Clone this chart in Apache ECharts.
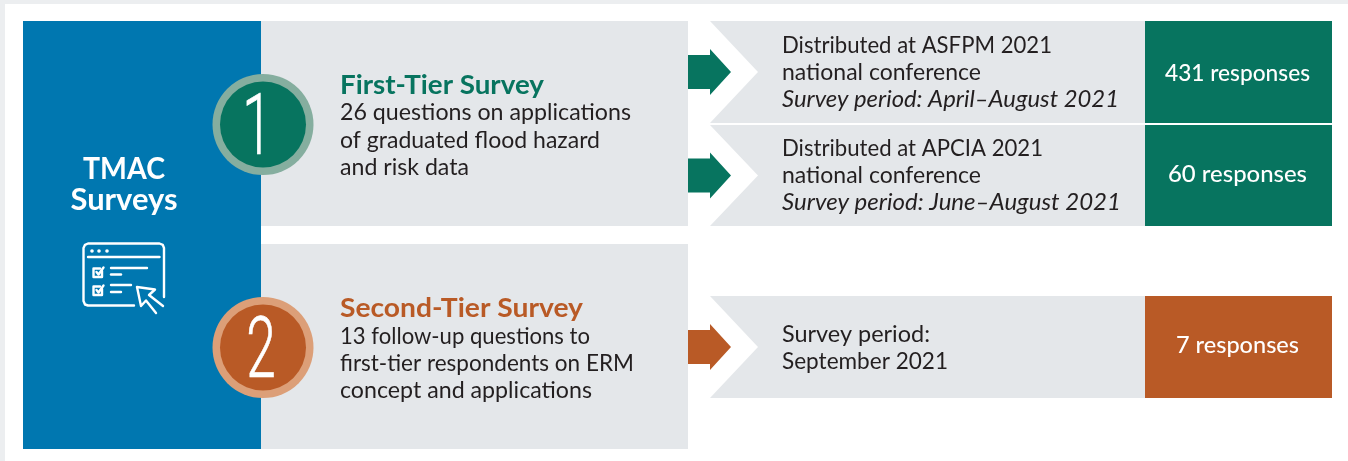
<!DOCTYPE html>
<html>
<head>
<meta charset="utf-8">
<title>TMAC Surveys</title>
<script src="https://cdn.jsdelivr.net/npm/echarts@6/dist/echarts.min.js"></script>
<style>
  html, body { margin: 0; padding: 0; background: #fff; }
  #chart { width: 1348px; height: 461px; }
</style>
</head>
<body>
<div id="chart"></div>
<script>
// ---------- content ----------
var mainTitle = ['TMAC', 'Surveys'];
var tierNumbers = ['1', '2'];
var tierTitles = ['First-Tier Survey', 'Second-Tier Survey'];
var tierLines = [
    ['26 questions on applications', 'of graduated flood hazard', 'and risk data'],
    ['13 follow-up questions to', 'first-tier respondents on ERM', 'concept and applications']
];
var rowTier = [0, 0, 1];
var rowLines = [
    ['Distributed at ASFPM 2021', 'national conference'],
    ['Distributed at APCIA 2021', 'national conference'],
    ['Survey period:', 'September 2021']
];
var rowPeriods = ['Survey period: April\u2013August 2021', 'Survey period: June\u2013August 2021', ''];
var rowResponses = [431, 60, 7];

// ---------- layout and colours ----------
var FONT = 'Lato, "Open Sans", sans-serif';
var INK = '#231f20';
var GREY = '#e4e7ea';
var BLUE = '#0077b0';
var tierColor = ['#07745f', '#b95a26'];
var ringColor = ['#85ae9f', '#dc9f78'];
var panelTop = [21, 244];
var circleY = [124.5, 347.5];
var digitX = [257, 261];
var titleY = [85.5, 308.5];
var titleW = [204, 243];
var tierLineY = [[113, 140.5, 168], [337, 364, 391]];
var tierLineW = [[291, 260, 129], [250, 294, 252]];
var rowTop = [21, 125, 296];
var rowBottom = [123, 226, 398];
var rowTextY = [[45.5, 72.5, 99.5], [148.5, 175.5, 202.5], [334.5, 361.5]];
var rowTextW = [[270, 199, 337], [261, 199, 339], [148, 166]];
var responseY = [74, 175, 346];
var responseW = [145, 139, 123];

var elements = [];
var measureCtx = document.createElement('canvas').getContext('2d');

function fontOf(size, opts) {
    return (opts.italic ? 'italic ' : '') + (opts.weight || 400) + ' ' + size + 'px ' + (opts.family || FONT);
}

// opts.width squeezes the line to the width it has in the picture
function addText(text, x, y, size, color, opts) {
    opts = opts || {};
    var font = fontOf(size, opts);
    var scaleX = opts.scaleX || 1;
    if (opts.width) {
        measureCtx.font = font;
        scaleX = opts.width / measureCtx.measureText(text).width;
    }
    elements.push({
        type: 'text',
        x: x,
        y: y,
        scaleX: scaleX,
        silent: true,
        z: 5,
        style: {
            text: text,
            fill: color,
            stroke: opts.stroke,
            lineWidth: opts.lineWidth,
            font: font,
            textAlign: opts.align || 'left',
            textVerticalAlign: 'middle'
        }
    });
}

function addRect(x, y, w, h, color, z) {
    elements.push({ type: 'rect', silent: true, z: z || 1, shape: { x: x, y: y, width: w, height: h }, style: { fill: color } });
}

function addPolygon(points, color) {
    elements.push({ type: 'polygon', silent: true, z: 2, shape: { points: points }, style: { fill: color } });
}

// page frame
addRect(0, 0, 1348, 461, '#eceef0', 0);
addRect(5, 4, 1343, 457, '#ffffff', 0);

// left column
addRect(23, 21, 238, 428, BLUE);
addText(mainTitle[0], 124, 169.5, 29.5, '#fff', { align: 'center', weight: 700, width: 82 });
addText(mainTitle[1], 124, 200.5, 29.5, '#fff', { align: 'center', weight: 700, width: 107 });

// tier panels
tierTitles.forEach(function (title, i) {
    addRect(261, panelTop[i], 427, 205, GREY);
    elements.push({ type: 'circle', silent: true, z: 3, shape: { cx: 263, cy: circleY[i], r: 50.5 }, style: { fill: ringColor[i] } });
    elements.push({ type: 'circle', silent: true, z: 4, shape: { cx: 263, cy: circleY[i], r: 43 }, style: { fill: tierColor[i] } });
    addText(tierNumbers[i], digitX[i], circleY[i] + 8, 86, '#fff', {
        align: 'center', weight: 300, scaleX: 0.62, family: 'Roboto, Lato, sans-serif', stroke: '#fff', lineWidth: 0.7
    });
    addText(title, 340, titleY[i], 27, tierColor[i], { weight: 700, width: titleW[i] });
    tierLines[i].forEach(function (line, j) {
        addText(line, 340, tierLineY[i][j], 23, INK, { width: tierLineW[i][j] });
    });
});

// detail rows
rowResponses.forEach(function (count, i) {
    var top = rowTop[i];
    var bottom = rowBottom[i];
    var mid = (top + bottom) / 2;
    var color = tierColor[rowTier[i]];
    addPolygon([[710, top], [1145, top], [1145, bottom], [710, bottom], [758, mid]], GREY);
    addPolygon([[688, mid - 17], [710, mid - 17], [710, mid - 23], [731, mid], [710, mid + 23], [710, mid + 17], [688, mid + 17]], color);
    addRect(1145, top, 187, bottom - top, color);
    addText(count + ' responses', 1237.5, responseY[i], 22.5, '#fff', { align: 'center', weight: 500, width: responseW[i] });
    rowLines[i].forEach(function (line, j) {
        addText(line, 782, rowTextY[i][j], 23, INK, { width: rowTextW[i][j] });
    });
    if (rowPeriods[i]) {
        addText(rowPeriods[i], 782, rowTextY[i][2], 23.5, INK, { italic: true, width: rowTextW[i][2] });
    }
});

// survey form icon
var iconLines = [
    [[134, 305.5], [88, 305.5], [85, 304.5], [83.5, 301], [83.5, 248], [85, 244.8], [88, 243.5], [159.5, 243.5], [162.8, 244.8], [164, 248], [164, 297]],
    [[88, 257], [159.5, 257]],
    [[111, 268], [147, 268]], [[111, 274.5], [121, 274.5]],
    [[111, 285], [131, 285]], [[111, 292], [121, 292]],
    [[102, 271], [102, 277], [93.5, 277], [93.5, 268.5], [100, 268.5]], [[96.5, 272], [98.5, 274.5], [103.5, 267.5]],
    [[102, 289], [102, 295], [93.5, 295], [93.5, 286.5], [100, 286.5]], [[96.5, 290], [98.5, 292.5], [103.5, 285.5]],
    [[163, 306], [149, 295], [155, 289.5], [137, 287], [141, 306], [146, 300.5], [156, 313]]
];
iconLines.forEach(function (points) {
    elements.push({
        type: 'polyline',
        silent: true,
        z: 5,
        shape: { points: points },
        style: { fill: 'none', stroke: '#fff', lineWidth: 2.4, lineCap: 'round', lineJoin: 'round' }
    });
});
[92, 99, 107].forEach(function (x) {
    elements.push({ type: 'circle', silent: true, z: 5, shape: { cx: x, cy: 251, r: 1.8 }, style: { fill: '#fff' } });
});

var myChart = echarts.init(document.getElementById('chart'), null, { renderer: 'canvas' });
myChart.setOption({
    animation: false,
    backgroundColor: '#ffffff',
    graphic: { elements: elements }
});
</script>
</body>
</html>
